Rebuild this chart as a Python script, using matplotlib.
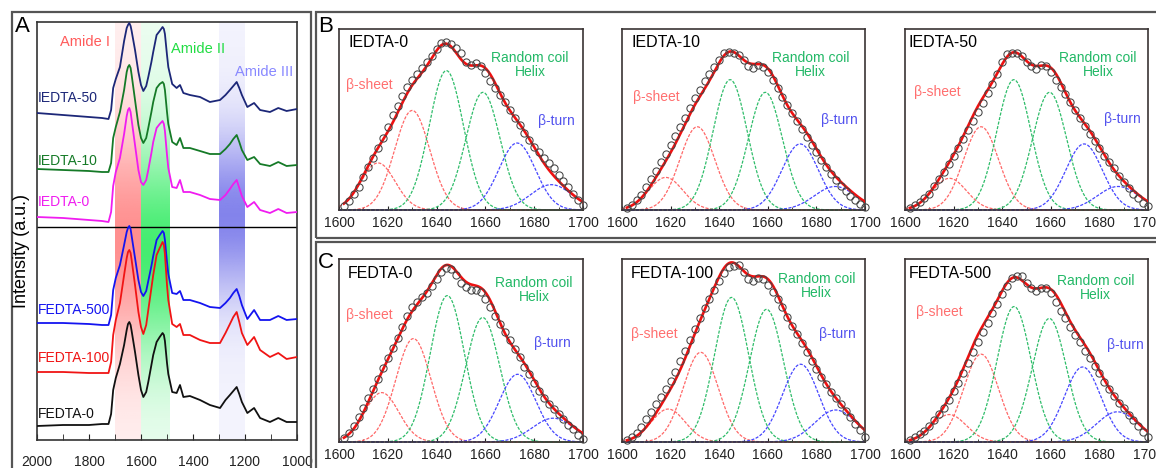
import numpy as np
import matplotlib.pyplot as plt
from matplotlib.colors import to_rgb
from matplotlib.patches import Rectangle

plt.rcParams['font.family'] = ['Liberation Sans', 'DejaVu Sans']

W, H = 1156, 468

# ---------------- panel A: FTIR spectra ----------------
wnA = [2000, 1900, 1800, 1750, 1725, 1715, 1707, 1697, 1681, 1665, 1655, 1650, 1645,
       1640, 1636, 1623, 1610, 1600, 1591, 1580, 1572, 1560, 1553, 1540, 1528, 1517,
       1512, 1508, 1500, 1495, 1480, 1463, 1450, 1437, 1412, 1373, 1335, 1296, 1275,
       1258, 1245, 1232, 1222, 1212, 1191, 1165, 1142, 1104, 1072, 1040, 1000]

iedta50 = [327, 325, 323, 322, 321, 330, 352, 361, 373, 399, 412, 415, 417, 414, 409,
           390, 368, 355, 349, 354, 363, 378, 388, 405, 409, 413, 411, 406, 385, 373,
           356, 352, 355, 347, 345, 343, 338, 340, 345, 350, 354, 358, 352, 345, 333,
           337, 330, 328, 332, 329, 331]
iedta10 = [271, 270, 269, 268, 268, 277, 302, 313, 328, 350, 368, 373, 375, 372, 365,
           340, 315, 302, 297, 302, 312, 328, 338, 352, 356, 358, 356, 350, 328, 316,
           298, 295, 302, 292, 292, 289, 286, 286, 291, 296, 301, 305, 298, 290, 280,
           283, 276, 274, 278, 274, 275]
iedta0 = [223, 222, 220, 219, 218, 228, 254, 268, 282, 306, 324, 330, 332, 328, 320,
          295, 270, 258, 255, 260, 270, 287, 298, 312, 316, 319, 316, 309, 285, 272,
          253, 252, 260, 248, 248, 245, 241, 240, 245, 251, 256, 260, 252, 244, 233,
          238, 230, 227, 231, 227, 228]
fedta500 = [117, 117, 116, 115, 115, 125, 150, 162, 175, 195, 208, 212, 214, 211, 204,
            182, 160, 148, 144, 149, 159, 174, 184, 200, 205, 209, 207, 200, 178, 166,
            147, 146, 149, 140, 140, 137, 133, 132, 137, 142, 147, 151, 144, 135, 121,
            130, 120, 120, 124, 120, 121]
fedta100 = [68, 68, 67, 67, 67, 78, 105, 120, 137, 165, 182, 188, 190, 187, 180,
            155, 128, 113, 106, 115, 130, 152, 165, 185, 192, 198, 195, 186, 155, 140,
            116, 113, 116, 105, 105, 100, 97, 97, 107, 116, 123, 128, 118, 107, 95,
            103, 90, 83, 87, 81, 83]
fedta0 = [14, 15, 15, 16, 16, 26, 50, 62, 76, 95, 110, 116, 118, 115, 109,
          88, 65, 50, 43, 48, 58, 75, 85, 98, 103, 107, 105, 99, 77, 66,
          48, 47, 55, 43, 44, 40, 35, 32, 40, 45, 49, 53, 46, 38, 27,
          32, 22, 18, 22, 18, 18]

spectra = [("IEDTA-50", iedta50, "#1c2778", 342),
           ("IEDTA-10", iedta10, "#157a27", 279),
           ("IEDTA-0", iedta0, "#f01cf0", 238),
           ("FEDTA-500", fedta500, "#1414f0", 130),
           ("FEDTA-100", fedta100, "#f01414", 82),
           ("FEDTA-0", fedta0, "#111111", 26)]

amide_bands = [(1700, 1600, "#ff4a4a", 200, 110, 0.62, 0.08),
               (1600, 1490, "#10e848", 190, 105, 0.78, 0.08),
               (1300, 1200, "#3838e0", 225, 80, 0.62, 0.06)]

# ---------------- panels B, C: amide I deconvolution ----------------
wn_pts = list(range(1602, 1701, 2))

circ_i0 = [0.02, 0.05, 0.09, 0.125, 0.18, 0.235, 0.29, 0.345, 0.40, 0.46,
           0.525, 0.575, 0.63, 0.68, 0.72, 0.75, 0.785, 0.815, 0.85, 0.89,
           0.925, 0.93, 0.915, 0.895, 0.87, 0.82, 0.80, 0.81, 0.795, 0.755,
           0.715, 0.675, 0.635, 0.595, 0.555, 0.51, 0.47, 0.425, 0.385, 0.35,
           0.32, 0.29, 0.26, 0.23, 0.195, 0.16, 0.125, 0.09, 0.055, 0.025]
circ_i10 = [0.01, 0.03, 0.055, 0.085, 0.125, 0.17, 0.215, 0.265, 0.31, 0.36,
            0.41, 0.46, 0.51, 0.565, 0.62, 0.665, 0.71, 0.75, 0.79, 0.83,
            0.865, 0.875, 0.87, 0.855, 0.83, 0.795, 0.785, 0.80, 0.79, 0.76,
            0.72, 0.675, 0.625, 0.58, 0.535, 0.49, 0.445, 0.405, 0.36, 0.32,
            0.275, 0.235, 0.20, 0.165, 0.135, 0.105, 0.08, 0.055, 0.035, 0.015]
circ_i50 = [0.01, 0.025, 0.045, 0.065, 0.09, 0.13, 0.17, 0.21, 0.255, 0.30,
            0.34, 0.39, 0.44, 0.49, 0.54, 0.59, 0.645, 0.695, 0.75, 0.815,
            0.86, 0.87, 0.865, 0.85, 0.82, 0.795, 0.78, 0.80, 0.795, 0.76,
            0.72, 0.68, 0.64, 0.595, 0.55, 0.51, 0.465, 0.42, 0.38, 0.34,
            0.30, 0.265, 0.23, 0.19, 0.155, 0.12, 0.09, 0.065, 0.04, 0.02]
circ_f0 = [0.02, 0.05, 0.09, 0.135, 0.185, 0.24, 0.29, 0.345, 0.405, 0.46,
           0.515, 0.57, 0.63, 0.69, 0.735, 0.765, 0.79, 0.815, 0.85, 0.89,
           0.93, 0.95, 0.945, 0.91, 0.87, 0.845, 0.83, 0.83, 0.82, 0.78,
           0.735, 0.69, 0.645, 0.60, 0.555, 0.51, 0.465, 0.41, 0.37, 0.325,
           0.28, 0.24, 0.21, 0.18, 0.155, 0.125, 0.095, 0.07, 0.04, 0.015]
circ_f100 = [0.01, 0.03, 0.05, 0.08, 0.125, 0.165, 0.205, 0.245, 0.29, 0.335,
             0.385, 0.44, 0.50, 0.56, 0.62, 0.675, 0.73, 0.78, 0.83, 0.88,
             0.925, 0.955, 0.96, 0.965, 0.93, 0.89, 0.88, 0.895, 0.89, 0.86,
             0.82, 0.78, 0.735, 0.685, 0.635, 0.59, 0.54, 0.49, 0.445, 0.40,
             0.355, 0.315, 0.275, 0.24, 0.205, 0.17, 0.135, 0.10, 0.065, 0.03]
circ_f500 = [0.01, 0.025, 0.045, 0.06, 0.085, 0.12, 0.155, 0.185, 0.23, 0.28,
             0.325, 0.375, 0.43, 0.49, 0.545, 0.60, 0.65, 0.705, 0.755, 0.81,
             0.855, 0.895, 0.905, 0.905, 0.87, 0.84, 0.825, 0.84, 0.84, 0.815,
             0.765, 0.715, 0.675, 0.63, 0.585, 0.545, 0.50, 0.46, 0.415, 0.375,
             0.33, 0.29, 0.25, 0.215, 0.185, 0.15, 0.12, 0.085, 0.055, 0.03]

# fitted sub-bands: beta-sheet x2, random coil / helix x2, beta-turn x2
band_sigma = [7.0, 7.2, 7.0, 7.0, 7.5, 8.5]
band_color = ["#ff6868", "#ff6868", "#2fbd6a", "#2fbd6a", "#4646ff", "#4646ff"]

pos_i0 = [1616, 1630, 1644, 1659, 1673, 1687]
amp_i0 = [0.26, 0.55, 0.77, 0.65, 0.37, 0.14]
pos_i10 = [1618, 1631, 1644.5, 1659, 1673.3, 1687.7]
amp_i10 = [0.18, 0.46, 0.72, 0.65, 0.365, 0.13]
pos_i50 = [1618.3, 1631.3, 1644.8, 1659.5, 1673.7, 1687.7]
amp_i50 = [0.175, 0.46, 0.72, 0.65, 0.365, 0.13]
pos_f0 = [1617.5, 1630.5, 1644.4, 1658.9, 1673.2, 1687.8]
amp_f0 = [0.27, 0.565, 0.80, 0.68, 0.37, 0.13]
pos_f100 = [1619, 1632.4, 1645.1, 1659.5, 1673.5, 1687.9]
amp_f100 = [0.18, 0.49, 0.79, 0.725, 0.425, 0.175]
pos_f500 = [1618.2, 1631.3, 1644.9, 1659.4, 1673.1, 1687.4]
amp_f500 = [0.15, 0.48, 0.74, 0.675, 0.41, 0.165]

# name, circles, centres, amplitudes, axes box (l, t, r, b) in px,
# label anchors (axes fraction): name, beta-sheet, coil/helix, beta-turn
panels = [
    ("IEDTA-0", circ_i0, pos_i0, amp_i0, (339, 29, 583, 210),
     (0.037, 0.923), (0.029, 0.69), (0.783, 0.80), (0.816, 0.492)),
    ("IEDTA-10", circ_i10, pos_i10, amp_i10, (622, 29, 865, 210),
     (0.041, 0.923), (0.045, 0.624), (0.775, 0.80), (0.82, 0.497)),
    ("IEDTA-50", circ_i50, pos_i50, amp_i50, (905, 29, 1148, 210),
     (0.016, 0.923), (0.037, 0.652), (0.795, 0.80), (0.82, 0.503)),
    ("FEDTA-0", circ_f0, pos_f0, amp_f0, (339, 259, 583, 442),
     (0.037, 0.923), (0.029, 0.694), (0.80, 0.83), (0.80, 0.541)),
    ("FEDTA-100", circ_f100, pos_f100, amp_f100, (622, 259, 865, 442),
     (0.037, 0.923), (0.037, 0.59), (0.80, 0.852), (0.81, 0.59)),
    ("FEDTA-500", circ_f500, pos_f500, amp_f500, (905, 259, 1148, 442),
     (0.016, 0.923), (0.045, 0.71), (0.785, 0.84), (0.83, 0.53)),
]


def box(l, t, r, b):
    return [l / W, 1 - b / H, (r - l) / W, (b - t) / H]


def gauss(x, c, a, s):
    return a * np.exp(-(x - c) ** 2 / (2 * s * s))


fig = plt.figure(figsize=(W / 100, H / 100), dpi=100)

# outer frames
for l, t, r, b in [(12, 12, 311, 475), (316, 12, 1165, 238), (316, 242, 1165, 475)]:
    fig.add_artist(Rectangle((l / W, 1 - b / H), (r - l) / W, (b - t) / H,
                             transform=fig.transFigure, fill=False,
                             edgecolor="#555555", lw=1.6))

# ---- A ----
axA = fig.add_axes(box(37, 22, 297, 440))
YTOP = 418
hh = np.linspace(0, YTOP, 300)
for x0, x1, col, hc, w, amax, amin in amide_bands:
    alpha = amin + (amax - amin) * np.exp(-((hh - hc) / w) ** 2)
    rgba = np.zeros((len(hh), 1, 4))
    rgba[..., :3] = to_rgb(col)
    rgba[..., 3] = alpha[:, None]
    axA.imshow(rgba, extent=[x0, x1, 0, YTOP], origin="lower", aspect="auto",
               interpolation="bilinear", zorder=0)

for name, vals, col, ylab in spectra:
    axA.plot(wnA, vals, color=col, lw=1.3, zorder=3)
    axA.text(1996, ylab, name, color=col, fontsize=10, ha="left", va="center", zorder=4)

axA.axhline(213, color="black", lw=1.0, zorder=2)
axA.text(1815, 398, "Amide I", color="#ff5a5a", fontsize=10.5, ha="center", va="center")
axA.text(1486, 391, "Amide II", color="#22dd44", fontsize=10.5, ha="left", va="center")
axA.text(1238, 368, "Amide III", color="#8888ff", fontsize=10.5, ha="left", va="center")

axA.set_xlim(2000, 1000)
axA.set_ylim(0, YTOP)
axA.set_yticks([])
axA.set_xticks(range(2000, 999, -200))
axA.set_xticks(range(1900, 999, -200), minor=True)
axA.tick_params(axis="x", which="both", direction="in", labelsize=10, pad=11,
                colors="#222222", length=4)
for sp in axA.spines.values():
    sp.set_color("#333333")
    sp.set_linewidth(1.2)
fig.text(22 / W, 1 - 251 / H, "Intensity (a.u.)", rotation=90, fontsize=13,
         ha="center", va="center")
fig.text(22 / W, 1 - 27 / H, "A", fontsize=16, ha="center", va="center")
fig.text(326 / W, 1 - 27 / H, "B", fontsize=16, ha="center", va="center")
fig.text(326 / W, 1 - 262 / H, "C", fontsize=16, ha="center", va="center")

# ---- B, C ----
xs = np.linspace(1600, 1700, 401)
xfit = xs[xs >= 1602]
for name, circ, pos, amp, bx, p_name, p_beta, p_coil, p_turn in panels:
    ax = fig.add_axes(box(*bx))
    total = np.zeros_like(xfit)
    for c, a, s, col in zip(pos, amp, band_sigma, band_color):
        ax.plot(xs, gauss(xs, c, a, s), color=col, lw=0.9, ls=(0, (2.5, 1.2)),
                zorder=2, clip_on=False)
        total += gauss(xfit, c, a, s)
    ax.plot(xfit, total, color="#ee1111", lw=1.9, zorder=3)
    ax.plot(wn_pts, circ, ls="none", marker="o", ms=5.2, mfc="none",
            mec="#444444", mew=0.75, zorder=4, clip_on=False)

    ax.text(*p_name, name, transform=ax.transAxes, fontsize=11.5,
            ha="left", va="center")
    ax.text(*p_beta, "β-sheet", transform=ax.transAxes, fontsize=10,
            color="#ff6f6f", ha="left", va="center")
    ax.text(*p_coil, "Random coil\nHelix", transform=ax.transAxes, fontsize=10,
            color="#22b866", ha="center", va="center", linespacing=1.0)
    ax.text(*p_turn, "β-turn", transform=ax.transAxes, fontsize=10,
            color="#5252ee", ha="left", va="center")

    ax.set_xlim(1600, 1700)
    ax.set_ylim(0, 1)
    ax.set_yticks([])
    ax.set_xticks(range(1600, 1701, 20))
    ax.set_xticks(range(1610, 1700, 20), minor=True)
    ax.tick_params(axis="x", which="both", direction="in", labelsize=10, pad=4,
                   colors="#222222")
    ax.tick_params(axis="x", which="major", length=3)
    ax.tick_params(axis="x", which="minor", length=2)
    for sp in ax.spines.values():
        sp.set_color("#3a3333")
        sp.set_linewidth(1.2)

fig.savefig("out.png", dpi=100)
